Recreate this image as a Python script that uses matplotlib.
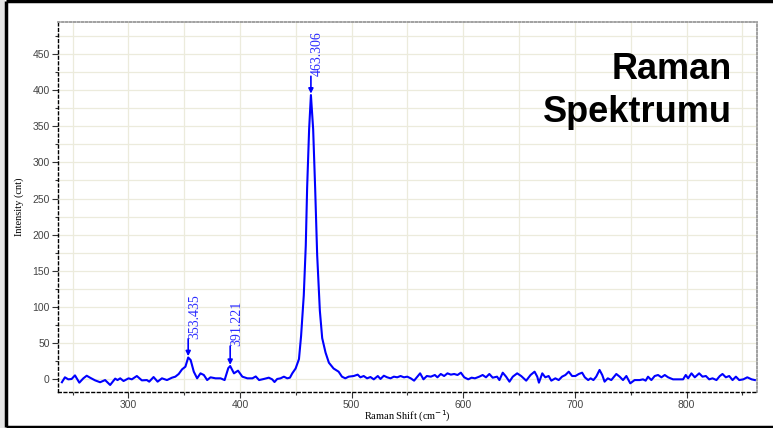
import matplotlib.pyplot as plt
from matplotlib.lines import Line2D
from matplotlib.patches import Rectangle
from matplotlib.ticker import MultipleLocator

# Raman spectrum (shift in cm-1, intensity in counts)
shift = [240.5, 243.2, 246.2, 249.2, 252.2, 256.1, 259.7, 262.7, 265.7, 270.2,
         274.7, 279.2, 283.7, 288.2, 290.3, 292.7, 295.7, 300.2, 303.1, 307.6,
         312.1, 316.6, 318.7, 322.6, 326.2, 330.1, 334.6, 339.1, 342.1, 345.1,
         348.1, 351.1, 353.6, 355.8, 358.6, 361.6, 364.6, 367.6, 370.6, 373.6,
         378.1, 382.6, 386.2, 389.5, 391.2, 394.6, 398.2, 402.1, 406.6, 411.1,
         414.1, 417.1, 421.3, 425.8, 428.8, 430.9, 433.3, 436.3, 439.3, 442.3,
         444.7, 446.8, 449.8, 452.8, 454.7, 457.1, 458.9, 460.1, 461.9, 463.5,
         465.5, 467.3, 469.1, 471.5, 473.6, 476.6, 479.6, 483.8, 488.3, 491.3,
         494.3, 497.3, 501.8, 505.4, 507.8, 510.8, 513.8, 516.8, 519.8, 523.4,
         525.8, 528.8, 531.8, 534.8, 537.8, 540.8, 543.8, 546.8, 549.8, 552.9,
         555.9, 558.9, 561.3, 564.3, 567.3, 570.9, 574.5, 576.8, 579.8, 582.8,
         585.8, 588.8, 591.8, 594.8, 597.8, 600.8, 604.4, 607.4, 610.4, 614.3,
         617.3, 620.3, 623.3, 626.3, 630.2, 632.3, 635.3, 638.3, 641.3, 644.3,
         648.2, 651.8, 656.3, 660.2, 663.8, 666.2, 667.7, 670.7, 673.4, 676.4,
         678.8, 682.4, 685.4, 688.4, 691.4, 694.4, 697.4, 700.4, 703.4, 706.4,
         708.8, 711.8, 714.0, 716.5, 719.0, 722.0, 724.4, 726.5, 729.4, 732.5,
         737.0, 740.0, 743.0, 746.0, 749.5, 753.4, 757.9, 760.9, 763.3, 765.4,
         768.4, 771.4, 774.4, 777.4, 780.4, 783.4, 787.8, 792.3, 796.8, 799.2,
         801.3, 804.3, 807.3, 811.2, 814.2, 817.2, 820.2, 823.2, 826.7, 829.7,
         832.1, 835.1, 838.1, 841.1, 844.1, 847.1, 850.7, 854.3, 858.2, 861.1]
intensity = [-4, 2.8, 0, 0.5, 5.5, -4.6, 1.4, 5, 2.3, -1.4,
             -4, -1, -7.8, 1, -1, 1.4, -2.3, 1.4, 0, 4.6,
             -1.4, -1, -3.2, 3.2, -3.2, 1.4, -1, 2.3, 3.7, 7.4,
             13.8, 17.5, 30.2, 26.7, 10.6, 1.4, 8.3, 6, -1, 2.8,
             1.4, 1.4, -1, 15.5, 18.4, 8.3, 12, 3.7, 1.4, 1.4,
             4, -1, 0.5, 2.3, 0, -3.7, 0.5, 1.4, 3.7, 1.4,
             2.3, 8.3, 15, 28, 60, 116, 185, 264, 346, 393,
             346, 264, 172, 95, 57, 37, 23, 15, 10.6, 3.7,
             1.4, 3.7, 4.6, 6.5, 2.8, 4.6, 1.4, 3.2, 0, 4.6,
             0.5, 5, 2.8, 1.4, 3.7, 2.8, 4.6, 2.8, 3.7, 1.4,
             -1.8, 3.7, 8.3, 0, 4.6, 3.7, 6, 2.8, 7.4, 4.6,
             8.3, 6.5, 7.4, 6, 9.2, 2.8, 0, 2.3, 1.4, 3.7,
             6, 2.8, 7.4, 2.3, 3.7, -1, 9.2, 3.7, -3.2, 3.7,
             8.3, 4.6, -1.8, 6, 10.6, 3.7, -4.6, 8.3, 2.8, 4.6,
             -1.8, 1.4, -1, 3.7, 6, 10.6, 4.6, 4.6, 7.4, 9.2,
             2.8, -1, 1.4, -1, 3.7, 13, 6, -3.2, 1.4, -1,
             7.4, 3.7, -1, 4.6, -5.5, -1, -1, 0, -1.8, 3.7,
             -1, 4.6, 6, 2.8, 6, 2.8, 0, 0, 0, 6,
             1.4, 8.3, 2.8, 8.3, 3.7, 4.6, 0, 1.4, -1, 4.6,
             7.4, 2.8, 4.6, -1, 3.7, -1, 0, 2.8, 0, -1]

# labelled peaks
peak_pos = [353.6, 391.2, 463.5]
peak_height = [30, 18, 393]
peak_labels = ['353.435', '391.221', '463.306']
arrow_len = [24, 26, 24]

fig = plt.figure(figsize=(7.73, 4.28), dpi=100)
fig.patch.set_facecolor('white')

# outer frame of the slide picture (left, top and bottom edges only)
fig.patches.append(Rectangle((0, 0), 5 / 773, 1, transform=fig.transFigure,
                             facecolor='#e6e6e6', edgecolor='none', zorder=0))
x0, y0, y1 = 6.5 / 773, 1 - 426.5 / 428, 1 - 1.2 / 428
for xs, ys in [([x0, x0], [y0, y1]), ([x0, 1], [y1, y1]), ([x0, 1], [y0, y0])]:
    fig.add_artist(Line2D(xs, ys, transform=fig.transFigure, color='black',
                          lw=2.5, solid_capstyle='butt'))

ax = fig.add_axes([58 / 773, 1 - 392 / 428, 699 / 773, 370 / 428])
ax.plot(shift, intensity, color='#0000ff', lw=1.5, zorder=3)

ax.set_xlim(237, 863)
ax.set_ylim(-17.5, 494)
ax.xaxis.set_major_locator(MultipleLocator(100))
ax.xaxis.set_minor_locator(MultipleLocator(50))
ax.yaxis.set_major_locator(MultipleLocator(50))
ax.yaxis.set_minor_locator(MultipleLocator(25))
ax.grid(True, which='both', color='#ecebdc', lw=0.9, zorder=0)
ax.set_axisbelow(True)

ax.tick_params(which='major', direction='out', length=4, width=0.8,
               labelsize=7.5, labelcolor='#444444', color='#333333', pad=2)
ax.tick_params(which='minor', direction='out', length=2, width=0.8, color='#333333')
for lab in ax.get_xticklabels() + ax.get_yticklabels():
    lab.set_family('Liberation Sans')

for side in ['left', 'bottom']:
    ax.spines[side].set_linestyle((0, (2, 2)))
    ax.spines[side].set_color('black')
    ax.spines[side].set_linewidth(1)
for side in ['top', 'right']:
    ax.spines[side].set_linestyle((0, (1, 1.2)))
    ax.spines[side].set_color('#999999')
    ax.spines[side].set_linewidth(1.3)

ax.set_xlabel('Raman Shift (cm$^{-1}$)', family='Liberation Serif', fontsize=7.5, labelpad=-1)
ax.set_ylabel('Intensity (cnt)', family='Liberation Serif', fontsize=7.5, labelpad=6)

# peak markers
for px, ph, lab, ln in zip(peak_pos, peak_height, peak_labels, arrow_len):
    tip = ph + 2
    tail = tip + ln
    ax.annotate('', xy=(px, tip), xytext=(px, tail),
                arrowprops=dict(arrowstyle='-|>', color='#0000ff', lw=1.2,
                                mutation_scale=7, shrinkA=0, shrinkB=0), zorder=4)
    ax.text(px, tail, lab, rotation=90, rotation_mode='anchor', ha='left', va='top',
            color='#2a2aff', family='Liberation Serif', fontsize=10, zorder=4)

fig.text(732 / 773, 1 - 79 / 428, 'Raman', ha='right', va='baseline',
         fontsize=26, fontweight='bold', family='Liberation Sans')
fig.text(732 / 773, 1 - 122 / 428, 'Spektrumu', ha='right', va='baseline',
         fontsize=26, fontweight='bold', family='Liberation Sans')

fig.savefig('out.png', dpi=100)
